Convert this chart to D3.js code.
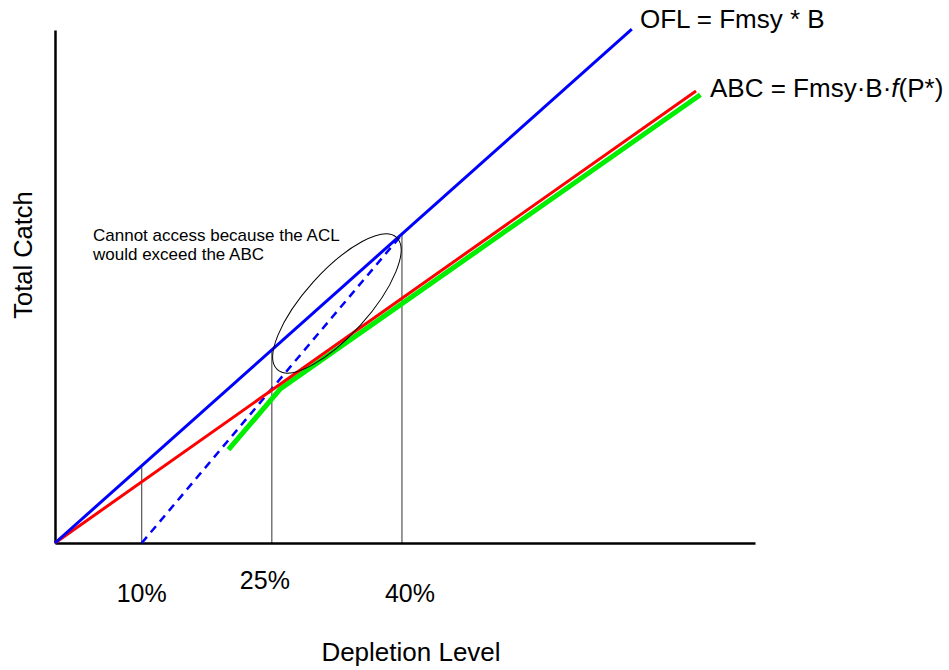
<!DOCTYPE html>
<html>
<head>
<meta charset="utf-8">
<script src="https://cdn.jsdelivr.net/npm/d3@7/dist/d3.min.js"></script>
<style>
  html, body { margin: 0; padding: 0; background: #fff; }
  svg { display: block; font-family: "Liberation Sans", Arial, sans-serif; }
</style>
</head>
<body>
<svg id="chart" width="949" height="670"></svg>
<script>
// ---- data (depletion in %, catch in relative units with Fmsy = 1) ----
const depletionTicks = [10, 25, 40];
const tickLabels = ["10%", "25%", "40%"];
const oflLine = [[0, 0], [66.5, 66.6]];            // OFL = Fmsy * B
const abcLine = [[0, 0], [73.9, 58.6]];            // ABC = Fmsy·B·f(P*)
const aclLine = [[20.0, 12.1], [26.0, 20.0], [74.4, 58.1]]; // achievable ACL (green)
const inaccessibleLine = [[10, 0], [40, 40]];      // dashed blue
const ellipseCenter = [32.5, 31.05];
const annotationLines = ["Cannot access because the ACL", "would exceed the ABC"];

const svg = d3.select("#chart");
const x = d3.scaleLinear().domain([0, 80.7]).range([55, 755]);
const y = d3.scaleLinear().domain([0, 66.5]).range([543, 30]);
const line = d3.line().x(d => x(d[0])).y(d => y(d[1]));

// vertical reference lines up to OFL
svg.selectAll("line.ref").data(depletionTicks).join("line")
  .attr("class", "ref")
  .attr("x1", d => x(d)).attr("x2", d => x(d))
  .attr("y1", y(0)).attr("y2", d => y(d))
  .attr("stroke", "#333").attr("stroke-width", 1);

// axes
const xAxis = d3.axisBottom(x).tickValues([]).tickSize(0);
const yAxis = d3.axisLeft(y).tickValues([]).tickSize(0);
svg.append("g").attr("transform", `translate(0,${y(0)})`).call(xAxis)
  .select(".domain").attr("stroke", "#000").attr("stroke-width", 2.5);
svg.append("g").attr("transform", `translate(${x(0)},0)`).call(yAxis)
  .select(".domain").attr("stroke", "#000").attr("stroke-width", 2.5);

// lines
svg.append("path").datum(inaccessibleLine).attr("d", line)
  .attr("fill", "none").attr("stroke", "#0000ff").attr("stroke-width", 2.5)
  .attr("stroke-dasharray", "8,6");
svg.append("path").datum(aclLine).attr("d", line)
  .attr("fill", "none").attr("stroke", "#00ee00").attr("stroke-width", 5);
svg.append("path").datum(abcLine).attr("d", line)
  .attr("fill", "none").attr("stroke", "#ff0000").attr("stroke-width", 3);
svg.append("path").datum(oflLine).attr("d", line)
  .attr("fill", "none").attr("stroke", "#0000ff").attr("stroke-width", 3);

// ellipse annotation
svg.append("ellipse")
  .attr("cx", 0).attr("cy", 0).attr("rx", 89).attr("ry", 32)
  .attr("transform", `translate(${x(ellipseCenter[0])},${y(ellipseCenter[1])}) rotate(-48)`)
  .attr("fill", "none").attr("stroke", "#000").attr("stroke-width", 1);

svg.append("text").attr("x", 93).attr("y", 241)
  .attr("font-size", 17)
  .selectAll("tspan").data(annotationLines).join("tspan")
  .attr("x", 93).attr("dy", (d, i) => i === 0 ? 0 : 18.5)
  .text(d => d);

// tick labels
const tickDx = [0, -7, 8];
const tickDy = [602, 589, 602];
svg.selectAll("text.tick").data(tickLabels).join("text")
  .attr("class", "tick")
  .attr("x", (d, i) => x(depletionTicks[i]) + tickDx[i])
  .attr("y", (d, i) => tickDy[i])
  .attr("text-anchor", "middle").attr("font-size", 25)
  .text(d => d);

// axis titles
svg.append("text").attr("x", 411).attr("y", 661)
  .attr("text-anchor", "middle").attr("font-size", 26).text("Depletion Level");
svg.append("text").attr("transform", "translate(32,255) rotate(-90)")
  .attr("text-anchor", "middle").attr("font-size", 25.5).text("Total Catch");

// line labels
svg.append("text").attr("x", 640).attr("y", 28).attr("font-size", 26)
  .text("OFL = Fmsy * B");
const abc = svg.append("text").attr("x", 710).attr("y", 97).attr("font-size", 26);
abc.append("tspan").text("ABC = Fmsy\u00b7B\u00b7");
abc.append("tspan").attr("font-style", "italic").text("f");
abc.append("tspan").text("(P*)");
</script>
</body>
</html>
